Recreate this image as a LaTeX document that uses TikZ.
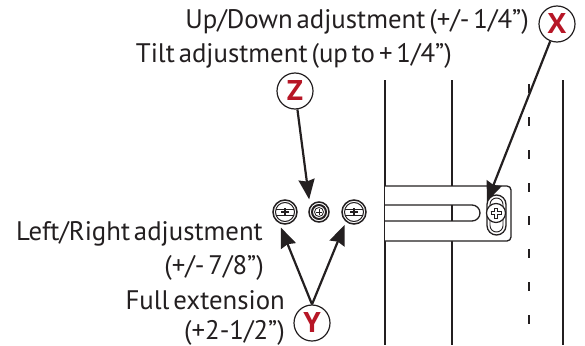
\documentclass[tikz,border=0pt]{standalone}
\usepackage{fontspec}
\setmainfont[WordSpace=0.55]{PT Sans}
\newfontfamily\markfont{Open Sans}
\usetikzlibrary{arrows.meta}
\definecolor{markRed}{RGB}{183,22,38}
\definecolor{inkGrey}{RGB}{35,31,32}
\tikzstyle{callout} = [anchor=base east, inner sep=0pt, text=inkGrey, font=\fontsize{26.8}{26.8}\selectfont]
\tikzstyle{marker} = [circle, draw=inkGrey, line width=1.2pt, fill=white, minimum size=36pt, inner sep=0pt, text=markRed, font=\fontsize{28}{28}\selectfont\markfont\bfseries]
\tikzstyle{screw} = [circle, draw=inkGrey, line width=1.5pt, fill=white, minimum size=24pt, inner sep=0pt, outer sep=4pt]
\tikzstyle{tiltScrew} = [circle, draw=inkGrey, line width=1.5pt, fill=white, minimum size=20pt, inner sep=0pt, outer sep=6pt]
\tikzstyle{slotScrew} = [circle, draw=inkGrey, line width=1.2pt, fill=white, minimum size=19pt, inner sep=0pt, outer sep=5pt]
\tikzstyle{connector} = [draw=inkGrey, line width=2.2pt, -{Stealth[length=20pt,width=16pt,inset=2pt]}]
\tikzstyle{rail} = [draw=inkGrey, line width=1.3pt]
\begin{document}
\begin{tikzpicture}[x=1pt,y=-1pt]
\useasboundingbox (0,0) rectangle (585,345);

% rails
\path [rail] (385,80) -- (385,345);
\path [rail] (452,80) -- (452,345);
\path [rail] (563,80) -- (563,345);
\path [rail, dash pattern=on 9pt off 24pt] (529,84) -- (529,345);

% bracket with its long slot
\path [rail, fill=white, rounded corners=4pt] (385,186) -- (511,186) -- (511,241) -- (385,241);
\path [rail] (385,205) -- (472,205) arc (-90:90:8) -- (385,221);
\path [rail] (452,205) -- (452,221);
\path [rail, rounded corners=9.5pt] (487,195) rectangle (506,235);
\path [rail, line width=0.9pt, rounded corners=6.5pt] (490,198) rectangle (503,232);

% screws
\node[screw] at (285,212) (screwLeft) {};
\node[tiltScrew] at (319,212) (screwTilt) {};
\node[screw] at (354,212) (screwRight) {};
\node[slotScrew] at (496,213) (screwSlot) {};

\foreach \name in {screwLeft,screwRight}{
  \draw [inkGrey, line width=1pt] (\name) circle (9.5);
  \draw [inkGrey, line width=1pt] ([xshift=-9pt,yshift=-3pt]\name.center) -- ([xshift=9pt,yshift=-3pt]\name.center);
  \draw [inkGrey, line width=1pt] ([xshift=-9pt,yshift=3pt]\name.center) -- ([xshift=9pt,yshift=3pt]\name.center);
  \draw [inkGrey, line width=2.6pt] ([xshift=-4pt]\name.center) -- ([xshift=4pt]\name.center);
  \draw [inkGrey, line width=2.6pt] ([yshift=-4pt]\name.center) -- ([yshift=4pt]\name.center);
}
\draw [inkGrey, line width=2pt] (screwTilt) circle (7);
\draw [inkGrey, line width=0.8pt] (screwTilt) circle (4.5);
\draw [inkGrey, line width=1pt] ([xshift=-3pt]screwTilt.center) -- ([xshift=3pt]screwTilt.center);
\draw [inkGrey, line width=1pt] ([yshift=-3pt]screwTilt.center) -- ([yshift=3pt]screwTilt.center);
\draw [inkGrey, line width=3.2pt] ([xshift=-5.5pt]screwSlot.center) -- ([xshift=5.5pt]screwSlot.center);
\draw [inkGrey, line width=3.2pt] ([yshift=-5.5pt]screwSlot.center) -- ([yshift=5.5pt]screwSlot.center);
\draw [white, line width=1.3pt] ([xshift=-4.5pt]screwSlot.center) -- ([xshift=4.5pt]screwSlot.center);
\draw [white, line width=1.3pt] ([yshift=-4.5pt]screwSlot.center) -- ([yshift=4.5pt]screwSlot.center);

% labels
\node[callout] at (529,29) (upDown) {Up/Down adjustment (+/- 1/4”)};
\node[callout] at (452,63) (tilt) {Tilt adjustment (up to + 1/4”)};
\node[callout] at (263,240) (leftRight) {Left/Right adjustment};
\node[callout] at (264,274) (leftRightRange) {(+/- 7/8”)};
\node[callout] at (285,309) (fullExt) {Full extension};
\node[callout] at (285,339) (fullExtRange) {(+2-1/2”)};

\node[marker] at (557,24) (markX) {X};
\node[marker] at (295,91) (markZ) {Z};
\node[marker] at (312,323) (markY) {Y};

\path [connector] (markX) -- (screwSlot.129);
\path [connector] (markZ) -- (screwTilt.128);
\path [connector] (markY.north) -- (screwLeft.-105);
\path [connector] (markY.north) -- (screwRight.-126);

\end{tikzpicture}
\end{document}
